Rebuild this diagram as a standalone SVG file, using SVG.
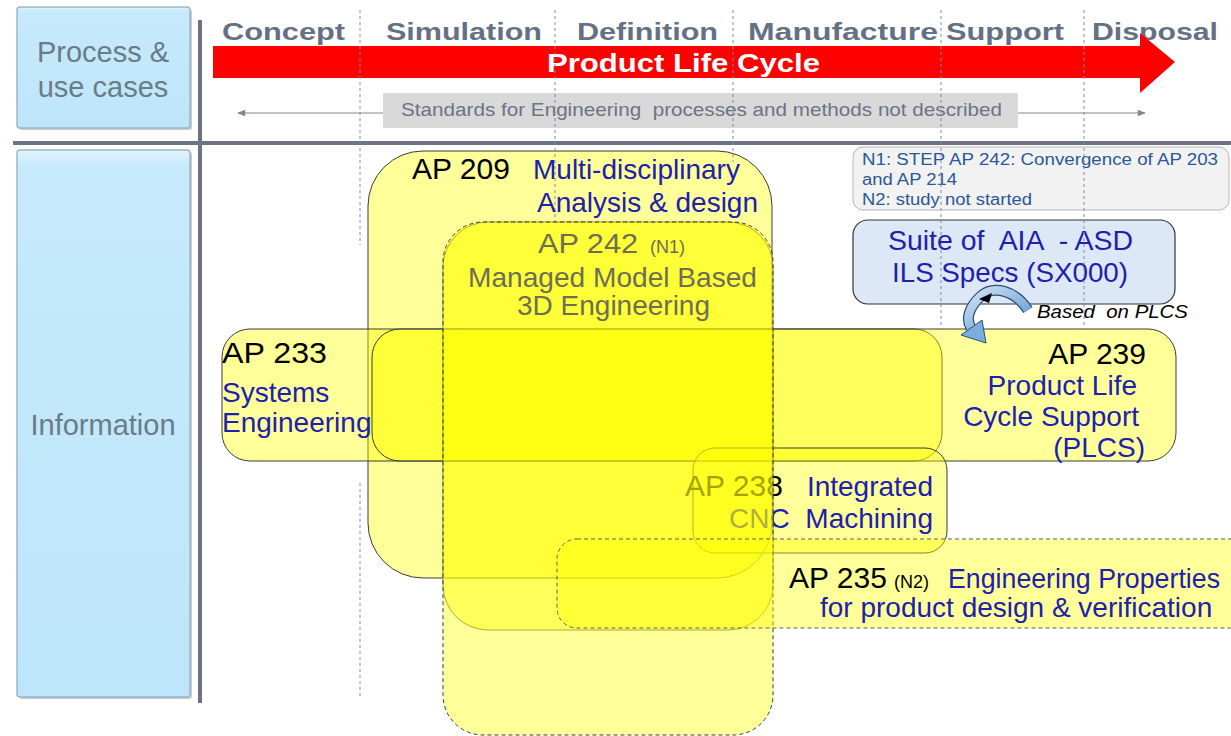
<svg xmlns="http://www.w3.org/2000/svg" width="1231" height="736" viewBox="0 0 1231 736">
<defs>
<linearGradient id="blueBox" x1="0" y1="0" x2="0" y2="1">
<stop offset="0" stop-color="#e2f5fd"/>
<stop offset="0.03" stop-color="#c6eafb"/>
<stop offset="1" stop-color="#bde5f9"/>
</linearGradient>
<linearGradient id="arrowFill" x1="0" y1="0" x2="1" y2="1">
<stop offset="0" stop-color="#cfe2f5"/>
<stop offset="1" stop-color="#5f97cf"/>
</linearGradient>
<marker id="gh" viewBox="0 0 10 10" refX="9" refY="5" markerWidth="10" markerHeight="8" orient="auto-start-reverse" markerUnits="userSpaceOnUse">
<path d="M0,1 L10,5 L0,9 z" fill="#7f8795"/>
</marker>
<style>
.lane{fill:url(#blueBox);stroke:#9db6c6;stroke-width:1.5}
.shadow{fill:#8e9aa6;opacity:0.5}
.lanetxt{font-family:'Liberation Sans',Arial,sans-serif;font-size:29px;fill:#6b7b8a;text-anchor:middle}
.phase{font-family:'Liberation Sans',Arial,sans-serif;font-weight:bold;font-size:23px;fill:#667085}
.sep{stroke:#6b7385;stroke-width:4}
.guide{stroke:#7d8ca6;stroke-width:1;stroke-dasharray:3 3;fill:none}
.ap{fill:#ffff00;fill-opacity:0.4;stroke:#3a3a3a;stroke-width:1}
.aps{fill:#ffff00;fill-opacity:0.4;stroke:#555530;stroke-width:0.8}
.apd{fill:#ffff00;fill-opacity:0.4;stroke:#3a3a3a;stroke-width:1;stroke-dasharray:4 3}
.apd2{fill:#ffff00;fill-opacity:0.4;stroke:#606060;stroke-width:1;stroke-dasharray:4 3}
.t{font-family:'Liberation Sans',Arial,sans-serif;font-size:28px}
.big{font-size:30px}
.sm{font-size:18px}
.k{fill:#000}
.b{fill:#2020b0}
.g{fill:#6e6e55}
.note{font-family:'Liberation Sans',Arial,sans-serif;font-size:16px;fill:#2b5797}
</style>
</defs>
<rect x="0" y="0" width="1231" height="736" fill="#ffffff"/>

<g id="lane-process">
<rect x="19" y="9" width="173" height="121" rx="3" class="shadow"/>
<rect x="17" y="7" width="173" height="121" rx="3" class="lane"/>
<text class="lanetxt" x="103" y="62">Process &amp;</text>
<text class="lanetxt" x="103" y="97">use cases</text>
</g>
<g id="lane-information">
<rect x="19" y="152" width="173" height="547" rx="3" class="shadow"/>
<rect x="17" y="150" width="173" height="547" rx="3" class="lane"/>
<text class="lanetxt" x="103" y="435">Information</text>
</g>

<g id="separators">
<line class="sep" x1="200" y1="20" x2="200" y2="703"/>
<line class="sep" x1="13" y1="143" x2="1231" y2="143"/>
</g>

<g id="phases">
<text class="phase" x="222" y="40" textLength="123" lengthAdjust="spacingAndGlyphs">Concept</text>
<text class="phase" x="386" y="40" textLength="156" lengthAdjust="spacingAndGlyphs">Simulation</text>
<text class="phase" x="577" y="40" textLength="141" lengthAdjust="spacingAndGlyphs">Definition</text>
<text class="phase" x="748" y="40" textLength="190" lengthAdjust="spacingAndGlyphs">Manufacture</text>
<text class="phase" x="946" y="40" textLength="118" lengthAdjust="spacingAndGlyphs">Support</text>
<text class="phase" x="1092" y="40" textLength="126" lengthAdjust="spacingAndGlyphs">Disposal</text>
</g>

<g id="plc-arrow">
<polygon points="213,46 1140,46 1140,33 1175,62 1140,93 1140,78 213,78" fill="#ff0000"/>
<text x="547" y="72" textLength="273" lengthAdjust="spacingAndGlyphs" font-family="'Liberation Sans',Arial,sans-serif" font-weight="bold" font-size="26" fill="#ffffff">Product Life Cycle</text>
</g>

<g id="standards">
<rect x="383" y="93" width="635" height="35" fill="#d9d9d9"/>
<text x="401" y="116" textLength="601" lengthAdjust="spacingAndGlyphs" font-family="'Liberation Sans',Arial,sans-serif" font-size="19" fill="#6b7385" xml:space="preserve">Standards for Engineering  processes and methods not described</text>
</g>

<g id="ap209-box"><rect class="ap" x="368" y="151" width="404" height="427" rx="55"/></g>
<g id="ap233-box"><rect class="ap" x="222" y="329" width="720" height="132" rx="28"/></g>
<g id="ap239-box"><rect class="ap" x="372" y="329" width="804" height="132" rx="28"/></g>
<g id="ap238">
<rect class="ap" x="693" y="448" width="254" height="105" rx="22"/>
<text class="t big k" x="685" y="496">AP 238</text>
<text class="t b" x="933" y="496" text-anchor="end">Integrated</text>
<text class="t b" x="729" y="528">CNC</text>
<text class="t b" x="933" y="528" text-anchor="end">Machining</text>
</g>
<g id="ap242-box">
<rect class="aps" x="443" y="222" width="330" height="408" rx="45"/>
<rect class="apd" x="443" y="222" width="330" height="513" rx="40"/>
</g>
<g id="ap235-box"><rect class="apd2" x="557" y="539" width="700" height="89" rx="20"/></g>

<g id="notes">
<rect x="853" y="147" width="376" height="63" rx="10" fill="#f2f2f2" stroke="#b5b5b5" stroke-width="1"/>
<text class="note" x="862" y="165" textLength="356" lengthAdjust="spacingAndGlyphs">N1: STEP AP 242: Convergence of AP 203</text>
<text class="note" x="862" y="185" textLength="95" lengthAdjust="spacingAndGlyphs">and AP 214</text>
<text class="note" x="862" y="205" textLength="170" lengthAdjust="spacingAndGlyphs">N2: study not started</text>
</g>

<g id="suite">
<rect x="853" y="220" width="322" height="84" rx="15" fill="#dce8f6" stroke="#333333" stroke-width="1.2"/>
<text class="t b" x="888" y="250" textLength="245" lengthAdjust="spacingAndGlyphs" xml:space="preserve">Suite of  AIA  - ASD</text>
<text class="t b" x="892" y="282" textLength="236" lengthAdjust="spacingAndGlyphs">ILS Specs (SX000)</text>
</g>

<g id="connectors">
<line x1="383" y1="113" x2="238" y2="113" stroke="#7f8795" stroke-width="1.2" marker-end="url(#gh)"/>
<line x1="1018" y1="113" x2="1145" y2="113" stroke="#7f8795" stroke-width="1.2" marker-end="url(#gh)"/>
<path d="M1028,310 C1015,290 993,285 981,296 C970,306 965,318 971,328" fill="none" stroke="#2f4f6f" stroke-width="11"/>
<path d="M1028,310 C1015,290 993,285 981,296 C970,306 965,318 971,328" fill="none" stroke="url(#arrowFill)" stroke-width="8.5"/>
<polygon points="982,320 961,335 986,343" fill="#7aaee0" stroke="#2f4f6f" stroke-width="1"/>
<polygon points="979,299 992,293 989,303" fill="#000000"/>
</g>
<text x="1037" y="318" textLength="151" lengthAdjust="spacingAndGlyphs" font-family="'Liberation Sans',Arial,sans-serif" font-style="italic" font-size="18" fill="#000" xml:space="preserve">Based  on PLCS</text>

<g id="guides">
<line class="guide" x1="360" y1="10" x2="360" y2="245"/>
<line class="guide" x1="360" y1="483" x2="360" y2="697"/>
<line class="guide" x1="555" y1="10" x2="555" y2="222"/>
<line class="guide" x1="733" y1="10" x2="733" y2="162"/>
<line class="guide" x1="941" y1="10" x2="941" y2="329"/>
<line class="guide" x1="1084" y1="10" x2="1084" y2="329"/>
</g>

<g id="ap209-text">
<text class="t big k" x="412" y="179">AP 209</text>
<text class="t b" x="533" y="179">Multi-disciplinary</text>
<text class="t b" x="537" y="212">Analysis &amp; design</text>
</g>
<g id="ap242-text">
<text class="t g" x="538" y="253" textLength="100" lengthAdjust="spacingAndGlyphs">AP 242</text>
<text class="t sm g" x="650" y="253">(N1)</text>
<text class="t g" x="468" y="287" textLength="289" lengthAdjust="spacingAndGlyphs">Managed Model Based</text>
<text class="t g" x="517" y="315" textLength="193" lengthAdjust="spacingAndGlyphs">3D Engineering</text>
</g>
<g id="ap233-text">
<text class="t big k" x="222" y="363" textLength="105" lengthAdjust="spacingAndGlyphs">AP 233</text>
<text class="t b" x="222" y="402">Systems</text>
<text class="t b" x="222" y="432">Engineering</text>
</g>
<g id="ap239-text">
<text class="t big k" x="1146" y="364" text-anchor="end">AP 239</text>
<text class="t b" x="1137" y="395" text-anchor="end">Product Life</text>
<text class="t b" x="1139" y="426" text-anchor="end">Cycle Support</text>
<text class="t b" x="1145" y="457" text-anchor="end">(PLCS)</text>
</g>
<g id="ap235-text">
<text class="t big k" x="789" y="588">AP 235</text>
<text class="t sm k" x="894" y="588">(N2)</text>
<text class="t b" x="948" y="588" textLength="272" lengthAdjust="spacingAndGlyphs">Engineering Properties</text>
<text class="t b" x="820" y="617">for product design &amp; verification</text>
</g>
</svg>
